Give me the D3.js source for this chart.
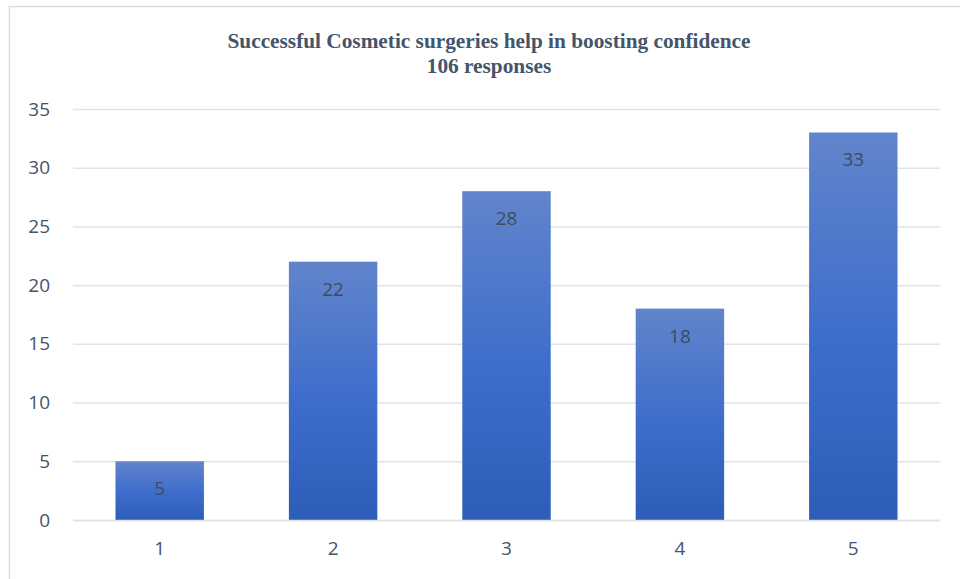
<!DOCTYPE html>
<html>
<head>
<meta charset="utf-8">
<script src="https://cdn.jsdelivr.net/npm/d3@7"></script>
<style>
  html, body { margin: 0; padding: 0; background: #fff; }
  svg { display: block; }
</style>
</head>
<body>
<svg id="chart" width="960" height="579"></svg>
<script>
// Survey answers on a 1–5 scale and how many respondents picked each
const categories = ["1", "2", "3", "4", "5"];
const counts = [5, 22, 28, 18, 33];
const yTicks = [0, 5, 10, 15, 20, 25, 30, 35];
const titleLines = ["Successful Cosmetic surgeries help in boosting confidence", "106 responses"];

const svg = d3.select("#chart");
const W = 960, H = 579;
const plot = { left: 73, right: 940, top: 109, bottom: 520 };
const textColor = "#44546a";
const labelFont = "'Open Sans', 'Liberation Sans', sans-serif";

// Outer chart frame (extends past the right and bottom edges)
svg.append("rect")
  .attr("x", 9.5).attr("y", 6.5)
  .attr("width", W + 20).attr("height", H + 20)
  .attr("fill", "#fff")
  .attr("stroke", "#d9dde3").attr("stroke-width", 1.5);

const defs = svg.append("defs");
const grad = defs.append("linearGradient")
  .attr("id", "barFill").attr("x1", 0).attr("y1", 0).attr("x2", 0).attr("y2", 1);
grad.append("stop").attr("offset", "0%").attr("stop-color", "#6185cb");
grad.append("stop").attr("offset", "55%").attr("stop-color", "#3d6ccb");
grad.append("stop").attr("offset", "100%").attr("stop-color", "#2e5db8");

const x = d3.scaleBand().domain(categories)
  .range([plot.left, plot.right]).paddingInner(0.49).paddingOuter(0.245);
const y = d3.scaleLinear().domain([0, 35]).range([plot.bottom, plot.top]);

// Horizontal gridlines
svg.append("g").selectAll("line").data(yTicks).join("line")
  .attr("x1", plot.left).attr("x2", plot.right)
  .attr("y1", d => y(d) + 0.5).attr("y2", d => y(d) + 0.5)
  .attr("stroke", "#dfe3e8").attr("stroke-width", 1.5);

// Y axis tick labels
const yAxis = d3.axisLeft(y).tickValues(yTicks).tickSize(0).tickPadding(0);
const gy = svg.append("g").attr("transform", `translate(50,0)`).call(yAxis);
gy.select(".domain").remove();
gy.selectAll("text")
  .attr("fill", textColor).style("font-family", labelFont).style("font-size", "19px");

// X axis category labels
const xAxis = d3.axisBottom(x).tickSize(0).tickPadding(0);
const gx = svg.append("g").attr("transform", `translate(0,${plot.bottom + 21})`).call(xAxis);
gx.select(".domain").remove();
gx.selectAll("text")
  .attr("fill", textColor).style("font-family", labelFont).style("font-size", "19px");

// Bars
svg.append("g").selectAll("rect").data(counts).join("rect")
  .attr("x", (d, i) => x(categories[i]))
  .attr("y", d => y(d))
  .attr("width", x.bandwidth())
  .attr("height", d => y(0) - y(d))
  .attr("fill", "url(#barFill)");

// Baseline drawn over the bar bottoms
svg.append("line")
  .attr("x1", plot.left).attr("x2", plot.right)
  .attr("y1", y(0) + 0.5).attr("y2", y(0) + 0.5)
  .attr("stroke", "#dfe3e8").attr("stroke-width", 1.5);

// Value labels inside the bar tops
svg.append("g").selectAll("text").data(counts).join("text")
  .attr("x", (d, i) => x(categories[i]) + x.bandwidth() / 2)
  .attr("y", d => y(d) + 34)
  .attr("text-anchor", "middle")
  .attr("fill", "#3f4b5e")
  .style("font-family", labelFont).style("font-size", "19px")
  .text(d => d);

// Title
svg.append("g").selectAll("text").data(titleLines).join("text")
  .attr("x", 489)
  .attr("y", (d, i) => 48 + i * 25)
  .attr("text-anchor", "middle")
  .attr("fill", textColor)
  .style("font-family", "'Liberation Serif', 'Times New Roman', serif")
  .style("font-weight", "bold").style("font-size", "21.3px")
  .text(d => d);
</script>
</body>
</html>
